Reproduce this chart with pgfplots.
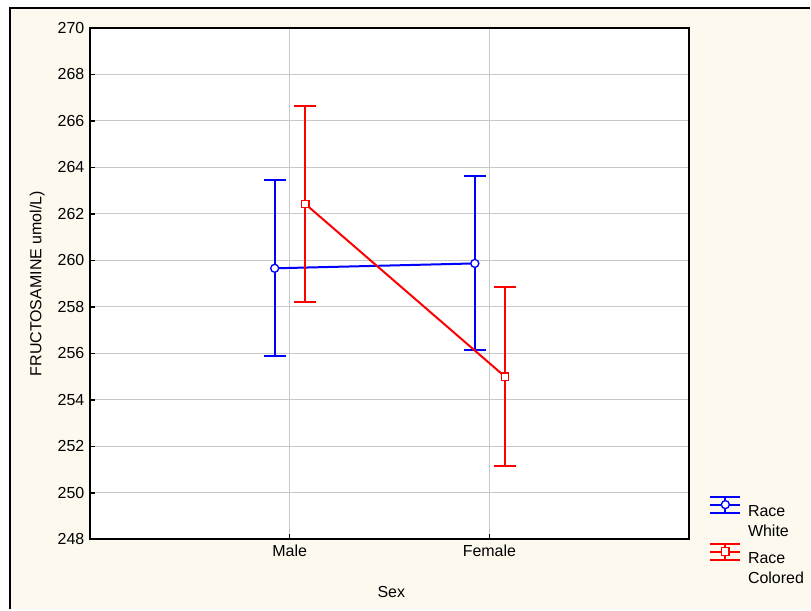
\documentclass[border=0pt]{standalone}
\usepackage{fontspec}
\setmainfont{Liberation Sans}
\usepackage{pgfplots}
\pgfplotsset{compat=1.18}
\definecolor{cream}{RGB}{253,249,238}
\definecolor{gridgray}{RGB}{200,200,200}
\begin{document}
\fontsize{12}{14}\selectfont
\begin{tikzpicture}[x=0.75pt,y=0.75pt]
\fill[white] (0,0) rectangle (811,610);
\fill[cream] (10,0) rectangle (811,602);
\draw[line width=1.5pt] (10,0) -- (10,602) -- (811,602);
\useasboundingbox (0,0) rectangle (811,610);
\begin{axis}[
  at={(67.5pt,52.5pt)}, anchor=south west,
  scale only axis, width=450pt, height=384pt,
  xmin=0, xmax=3, ymin=248, ymax=270,
  ytick={248,250,...,270},
  xtick={1,2}, xticklabels={Male,Female},
  tick pos=left,
  tick align=inside, major tick length=4pt,
  tick style={black, line width=1pt},
  grid=major, major grid style={gridgray, line width=0.75pt},
  axis line style={line width=1.5pt},
  axis background/.style={fill=white},
  /pgf/number format/assume math mode=true,
  ticklabel style={font=\fontsize{12}{14}\selectfont},
  label style={font=\fontsize{12}{14}\selectfont},
  xlabel={Sex}, ylabel={FRUCTOSAMINE umol/L)},
  xlabel style={at={(axis description cs:0.503,-0.1035)}, anchor=center},
  ylabel style={at={(axis description cs:-0.088,0.5)}, anchor=center},
  legend cell align=left,
  legend style={draw=none, fill=none, inner sep=0pt,
    at={(axis description cs:1.0333,0.086)}, anchor=north west,
    row sep=3pt, column sep=5pt,
    nodes={inner sep=0pt, text height=10.5pt, text depth=1.5pt,
      font=\fontsize{12}{14}\selectfont}},
]
\addplot[draw=blue, line width=1.5pt, mark=*, mark size=3pt,
  mark options={fill=white, draw=blue, line width=1pt},
  legend image code/.code={
    \draw[blue, line width=1.5pt] (0pt,10.5pt) -- (22.5pt,10.5pt)
      (0pt,-1.5pt) -- (22.5pt,-1.5pt) (0pt,4.5pt) -- (22.5pt,4.5pt)
      (11.25pt,-1.5pt) -- (11.25pt,10.5pt);
    \draw[blue, fill=white, line width=1pt] (11.25pt,4.5pt) circle (3pt);
  },
  error bars/.cd, y dir=both, y explicit,
  error bar style={line width=1.5pt, blue},
  error mark options={rotate=90, line width=1.5pt, mark size=8.25pt, blue}]
  coordinates {(0.925,259.66) +- (0,3.78) (1.927,259.87) +- (0,3.74)};
\addlegendentry{Race}
\addlegendimage{empty legend}
\addlegendentry{White}
\addplot[draw=red, line width=1.5pt, mark=square*, mark size=2.8pt,
  mark options={fill=white, draw=red, line width=1pt},
  legend image code/.code={
    \draw[red, line width=1.5pt] (0pt,10.5pt) -- (22.5pt,10.5pt)
      (0pt,-1.5pt) -- (22.5pt,-1.5pt) (0pt,4.5pt) -- (22.5pt,4.5pt)
      (11.25pt,-1.5pt) -- (11.25pt,10.5pt);
    \draw[red, fill=white, line width=1pt] (8.45pt,1.7pt) rectangle (14.05pt,7.3pt);
  },
  error bars/.cd, y dir=both, y explicit,
  error bar style={line width=1.5pt, red},
  error mark options={rotate=90, line width=1.5pt, mark size=8.25pt, red}]
  coordinates {(1.078,262.43) +- (0,4.22) (2.078,255.0) +- (0,3.85)};
\addlegendentry{Race}
\addlegendimage{empty legend}
\addlegendentry{Colored}
\end{axis}
\end{tikzpicture}
\end{document}
